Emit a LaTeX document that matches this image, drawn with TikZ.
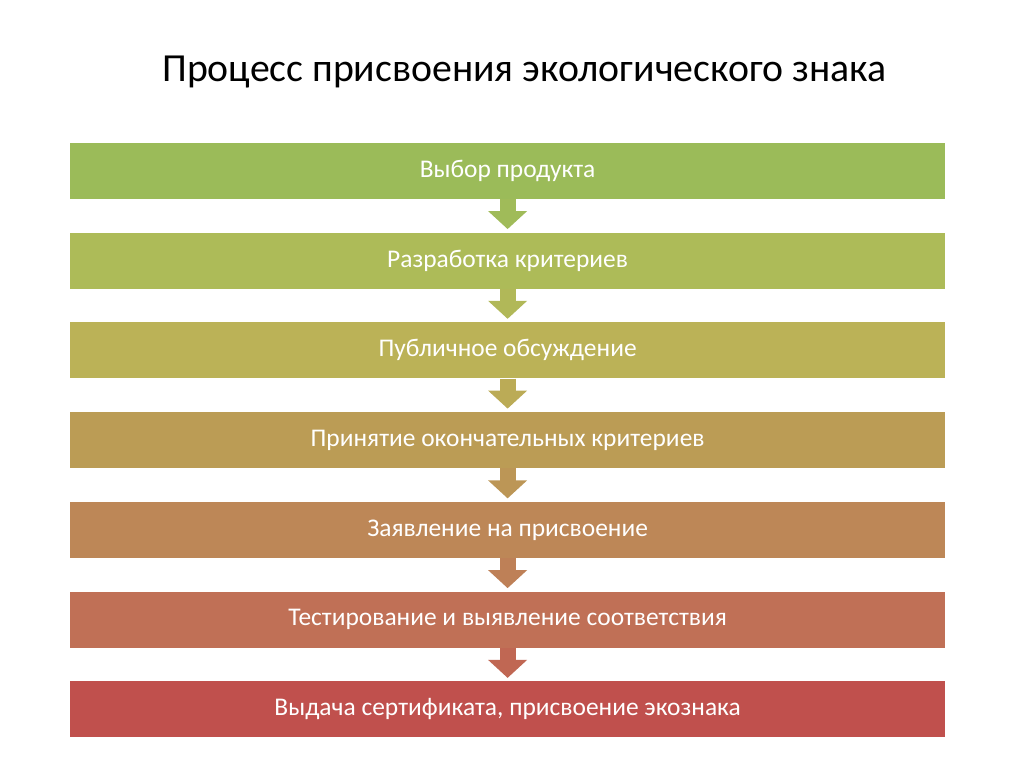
\documentclass[tikz,border=0pt]{standalone}
\usepackage{fontspec}
\setmainfont{Carlito}
\definecolor{stepA}{HTML}{9BBB59}
\definecolor{stepB}{HTML}{ADBB58}
\definecolor{stepC}{HTML}{BBB257}
\definecolor{stepD}{HTML}{BB9C55}
\definecolor{stepE}{HTML}{BD8757}
\definecolor{stepF}{HTML}{C07056}
\definecolor{stepG}{HTML}{C0504D}
\usetikzlibrary{positioning, arrows.meta}

\begin{document}
\begin{tikzpicture}[
    stage/.style={text=white, minimum width=21.875cm, minimum height=1.4cm,
      inner sep=0pt, font=\fontsize{18.1}{21}\selectfont},
    flow/.style={line width=0.4cm, shorten >=0.08cm,
      -{Triangle[width=0.95cm, length=0.45cm]}},
    node distance=0.83cm,
  ]
    \useasboundingbox[fill=white] (0,0) rectangle (25.6,-19.2);
    \node[anchor=base, font=\fontsize{28.3}{33}\selectfont] (title) at (13.11,-2.05)
      {Процесс присвоения экологического знака};
    \node[stage, fill=stepA] (s1) at (12.69,-4.27) {Выбор продукта};
    \node[stage, fill=stepB, below=of s1] (s2) {Разработка критериев};
    \node[stage, fill=stepC, below=of s2] (s3) {Публичное обсуждение};
    \node[stage, fill=stepD, below=of s3] (s4) {Принятие окончательных критериев};
    \node[stage, fill=stepE, below=of s4] (s5) {Заявление на присвоение};
    \node[stage, fill=stepF, below=of s5] (s6) {Тестирование и выявление соответствия};
    \node[stage, fill=stepG, below=of s6] (s7) {Выдача сертификата, присвоение экознака};
    % arrows between the steps
    \draw[flow, stepA!70!stepB] (s1.south) -- (s2.north);
    \draw[flow, stepB!70!stepC] (s2.south) -- (s3.north);
    \draw[flow, stepC!70!stepD] (s3.south) -- (s4.north);
    \draw[flow, stepD!70!stepE] (s4.south) -- (s5.north);
    \draw[flow, stepE!70!stepF] (s5.south) -- (s6.north);
    \draw[flow, stepF!70!stepG] (s6.south) -- (s7.north);
  \end{tikzpicture}
\end{document}
